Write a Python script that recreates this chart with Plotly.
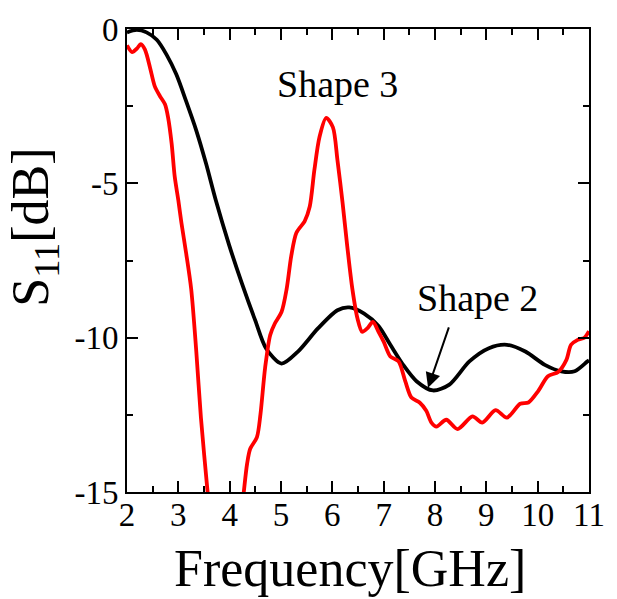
import plotly.graph_objects as go

# Return loss S11 of two antenna shapes versus frequency
freq_shape2 = [2.00, 2.19, 2.38, 2.58, 2.77, 2.96, 3.15, 3.35, 3.54, 3.73, 3.99, 4.24,
               4.50, 4.71, 5.01, 5.33, 5.72, 6.10, 6.33, 6.62, 6.90, 7.13, 7.38, 7.64,
               7.96, 8.28, 8.67, 9.05, 9.40, 9.76, 10.14, 10.46, 10.72, 10.97, 11.00]
s11_shape2 = [-0.11, -0.03, -0.11, -0.35, -0.83, -1.47, -2.33, -3.29, -4.36, -5.55, -7.00, -8.25,
              -9.45, -10.35, -10.84, -10.45, -9.70, -9.11, -9.02, -9.22, -9.62, -10.23, -10.88, -11.41,
              -11.71, -11.52, -10.77, -10.34, -10.23, -10.45, -10.88, -11.09, -11.09, -10.77, -10.74]

freq_shape3 = [2.00, 2.10, 2.19, 2.27, 2.35, 2.45, 2.54, 2.64, 2.74, 2.80, 2.87, 2.93,
               3.00, 3.06, 3.15, 3.25, 3.35, 3.44, 3.57, 3.70, 3.92, 4.15, 4.275, 4.34,
               4.40, 4.53, 4.60, 4.69, 4.79, 4.88, 5.01, 5.11, 5.20, 5.30, 5.46, 5.56,
               5.65, 5.75, 5.88, 6.01, 6.10, 6.20, 6.29, 6.39, 6.49, 6.58, 6.68, 6.79,
               6.90, 7.00, 7.13, 7.29, 7.42, 7.54, 7.70, 7.83, 7.93, 8.03, 8.22, 8.44,
               8.73, 8.92, 9.18, 9.40, 9.66, 9.82, 10.01, 10.20, 10.40, 10.56, 10.65, 10.78,
               10.91, 11.00]
s11_shape3 = [-0.53, -0.75, -0.64, -0.49, -0.67, -1.26, -1.85, -2.17, -2.44, -2.86, -3.72, -4.79,
              -5.55, -6.28, -7.24, -8.42, -10.45, -12.59, -15.00, -17.30, -19.50, -17.00, -15.00, -14.08,
              -13.60, -13.23, -12.48, -10.98, -9.91, -9.54, -9.17, -8.42, -7.35, -6.60, -6.23, -5.75,
              -4.57, -3.50, -2.88, -3.18, -4.25, -5.64, -7.03, -8.42, -9.38, -9.81, -9.70, -9.49,
              -9.81, -10.13, -10.61, -10.77, -11.41, -11.94, -12.10, -12.37, -12.75, -12.88, -12.66, -12.96,
              -12.55, -12.75, -12.35, -12.59, -12.14, -12.10, -11.73, -11.25, -11.11, -10.72, -10.23, -10.07,
              -10.00, -9.79]

x_ticks = [2, 3, 4, 5, 6, 7, 8, 9, 10, 11]
y_ticks = [0, -5, -10, -15]

serif = "Liberation Serif"

fig = go.Figure()
fig.add_trace(go.Scatter(x=freq_shape2, y=s11_shape2, mode="lines",
                         line=dict(color="#000000", width=3.8, shape="spline", smoothing=0.8),
                         name="Shape 2"))
fig.add_trace(go.Scatter(x=freq_shape3, y=s11_shape3, mode="lines",
                         line=dict(color="#ff0000", width=3.8, shape="spline", smoothing=0.8),
                         name="Shape 3"))

axis_common = dict(
    showgrid=False, zeroline=False, showline=True, linecolor="black", linewidth=2,
    mirror="ticks", ticks="inside", ticklen=11, tickwidth=2, tickcolor="black",
    tickfont=dict(family=serif, size=33, color="black"),
)

fig.update_xaxes(range=[2, 11], tickvals=x_ticks, ticktext=[str(v) for v in x_ticks],
                 minor=dict(ticks="inside", ticklen=6, tickwidth=2, tickcolor="black", dtick=0.5),
                 ticklabelstandoff=-8, **axis_common)
fig.update_yaxes(range=[-15, 0], tickvals=y_ticks, ticktext=[str(v) for v in y_ticks],
                 minor=dict(ticks="inside", ticklen=6, tickwidth=2, tickcolor="black", dtick=2.5),
                 **axis_common)

fig.add_annotation(text="Shape 3", x=6.11, y=-1.78, xref="x", yref="y", showarrow=False,
                   font=dict(family=serif, size=38, color="black"), xanchor="center", yanchor="middle")
fig.add_annotation(text="Shape 2", x=8.82, y=-8.73, xref="x", yref="y", showarrow=False,
                   font=dict(family=serif, size=38, color="black"), xanchor="center", yanchor="middle")
fig.add_annotation(text="", x=7.865, y=-11.625, ax=8.28, ay=-9.62, xref="x", yref="y",
                   axref="x", ayref="y", showarrow=True, arrowhead=2, arrowsize=1.5,
                   arrowwidth=2, arrowcolor="black", standoff=0)

fig.add_annotation(text="Frequency[GHz]", x=0.482, y=-0.165, xref="paper", yref="paper",
                   showarrow=False, font=dict(family=serif, size=52, color="black"),
                   xanchor="center", yanchor="middle")
fig.add_annotation(text="S<sub>11</sub>[dB]", x=-0.199, y=0.571, xref="paper", yref="paper",
                   showarrow=False, textangle=-90, font=dict(family=serif, size=52, color="black"),
                   xanchor="center", yanchor="middle")

fig.update_layout(width=617, height=599, margin=dict(l=127, r=23, t=24, b=107),
                  paper_bgcolor="white", plot_bgcolor="white", showlegend=False)

fig.write_html("out.html")
